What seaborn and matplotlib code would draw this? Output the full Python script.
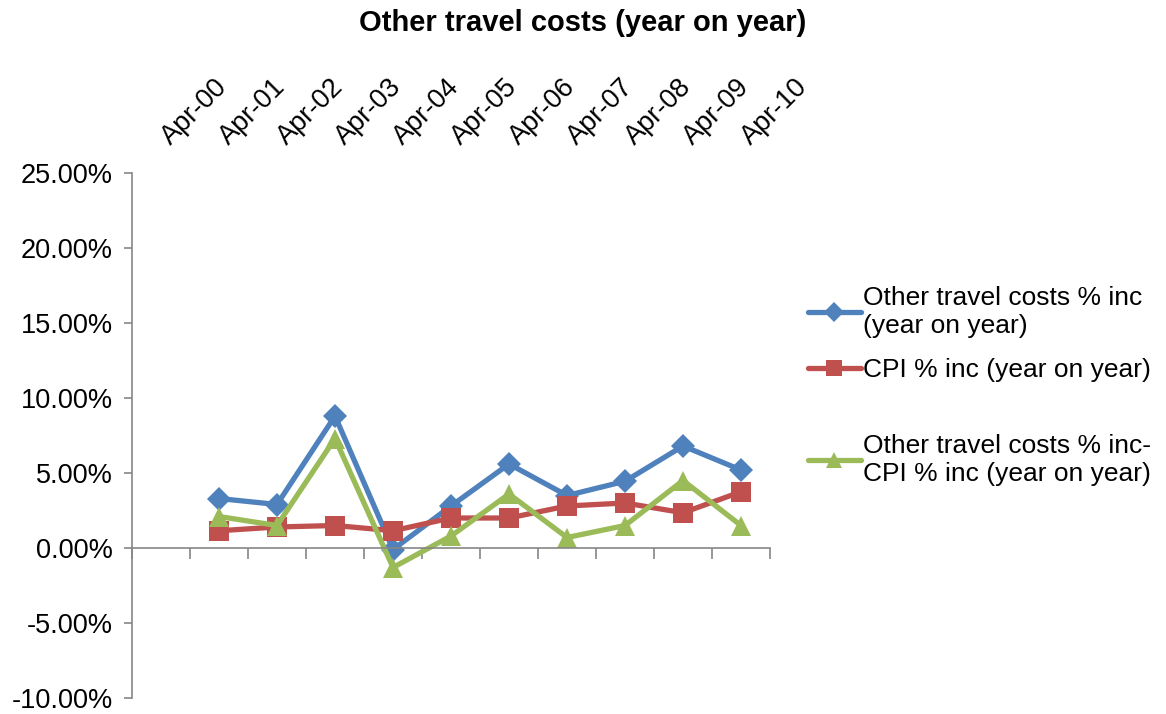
import numpy as np
import pandas as pd
import matplotlib.pyplot as plt
import matplotlib.transforms as mtransforms
import seaborn as sns
from matplotlib.ticker import FuncFormatter, FixedLocator

# Data
categories = ['Apr-00', 'Apr-01', 'Apr-02', 'Apr-03', 'Apr-04', 'Apr-05',
              'Apr-06', 'Apr-07', 'Apr-08', 'Apr-09', 'Apr-10']
periods = categories[1:]
travel = [3.3, 2.9, 8.8, -0.1, 2.8, 5.6, 3.5, 4.45, 6.8, 5.2]
cpi = [1.15, 1.4, 1.5, 1.15, 2.0, 2.0, 2.8, 3.0, 2.35, 3.75]
diff = [2.1, 1.5, 7.3, -1.3, 0.8, 3.6, 0.7, 1.5, 4.5, 1.5]

series_names = ['Other travel costs % inc\n(year on year)',
                'CPI % inc (year on year)',
                'Other travel costs % inc-\nCPI % inc (year on year)']

rows = []
for name, vals in zip(series_names, [travel, cpi, diff]):
    for p, v in zip(periods, vals):
        rows.append({'pos': categories.index(p), 'value': v, 'series': name})
data = pd.DataFrame(rows)

sns.set_style('white')
plt.rcParams['font.family'] = ['Liberation Sans', 'DejaVu Sans']
plt.rcParams['text.color'] = 'black'

fig = plt.figure(figsize=(11.66, 7.14), dpi=100)
ax = fig.add_axes([0.1132, 0.0224, 0.5472, 0.7353])

palette = {series_names[0]: '#4F81BD', series_names[1]: '#C0504D', series_names[2]: '#9BBB59'}
markers = {series_names[0]: 'D', series_names[1]: 's', series_names[2]: '^'}
sizes = {'D': 12.5, 's': 14, '^': 15}

for name in series_names:
    sub = data[data['series'] == name]
    m = markers[name]
    sns.lineplot(x='pos', y='value', data=sub, ax=ax, color=palette[name],
                 marker=m, markersize=sizes[m], markeredgewidth=0,
                 linewidth=3.8, label=name, legend=False)

# Axes styling
ax.set_xlim(-0.5, len(categories) - 0.5)
ax.set_ylim(-10, 25)
ax.set_yticks(np.arange(-10, 26, 5))
ax.yaxis.set_major_formatter(FuncFormatter(lambda v, _: f"{v:.2f}%"))
ax.tick_params(axis='y', direction='out', length=6, width=1.2, color='#868686',
               labelcolor='black', labelsize=19.5, pad=8, left=True)

ax.spines['top'].set_visible(False)
ax.spines['right'].set_visible(False)
ax.spines['left'].set_color('#868686')
ax.spines['left'].set_linewidth(1.2)
ax.spines['bottom'].set_position(('data', 0))
ax.spines['bottom'].set_color('#868686')
ax.spines['bottom'].set_linewidth(1.2)

ax.set_xticks(np.arange(len(categories)))
ax.set_xticklabels(categories)
ax.xaxis.set_minor_locator(FixedLocator(np.arange(-0.5, len(categories), 1)))
ax.tick_params(axis='x', which='major', bottom=False, top=False,
               labelbottom=False, labeltop=True, labelsize=19.5,
               labelcolor='black', pad=13)
ax.tick_params(axis='x', which='minor', bottom=True, direction='out',
               length=8, width=1.2, color='#868686')
shift = mtransforms.ScaledTranslation(14 / 100, 0, fig.dpi_scale_trans)
for lbl in ax.get_xticklabels():
    lbl.set_rotation(45)
    lbl.set_rotation_mode('anchor')
    lbl.set_ha('left')
    lbl.set_va('bottom')
    lbl.set_transform(lbl.get_transform() + shift)

ax.set_xlabel('')
ax.set_ylabel('')
ax.grid(False)

# Legend (two blocks to mimic the uneven spacing)
handles, labels = ax.get_legend_handles_labels()
leg_kw = dict(loc='upper left', frameon=False, fontsize=19, handlelength=2.0,
              handletextpad=0.1, labelspacing=0.75, markerscale=0.8,
              borderaxespad=0, borderpad=0)
fig.legend(handles[:2], labels[:2], bbox_to_anchor=(0.693, 0.599), **leg_kw)
fig.legend(handles[2:], labels[2:], bbox_to_anchor=(0.693, 0.392), **leg_kw)

fig.suptitle('Other travel costs (year on year)', fontsize=21, fontweight='bold',
             y=0.968, va='center')

plt.savefig('out.png', dpi=100)
